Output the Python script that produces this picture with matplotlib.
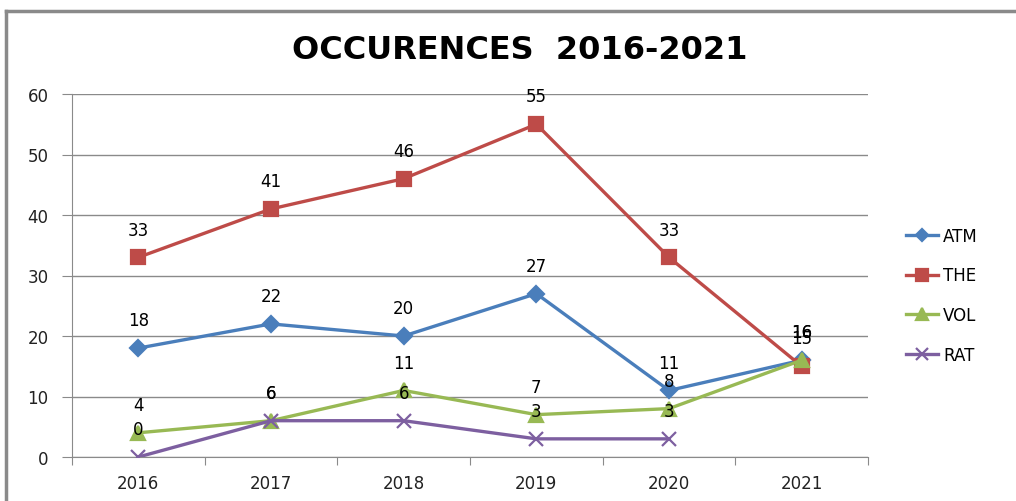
#!/usr/bin/env python3

import numpy as np
import matplotlib
matplotlib.use("Agg")
import matplotlib.pyplot as plt
from matplotlib.lines import Line2D

years = ["2016", "2017", "2018", "2019", "2020", "2021"]
atm = [18, 22, 20, 27, 11, 16]
the = [33, 41, 46, 55, 33, 15]
vol = [4, 6, 11, 7, 8, 16]
rat = [0, 6, 6, 3, 3, np.nan]

series = [
    ("ATM", atm, "#4A7EBB", "D", 8),
    ("THE", the, "#BE4B48", "s", 10),
    ("VOL", vol, "#98B954", "^", 10),
    ("RAT", rat, "#7D5FA0", "x", 10),
]

fig = plt.figure(figsize=(10.16, 5.02), dpi=100)
ax = fig.add_axes([72 / 1016, 1 - 458 / 502, (868 - 72) / 1016, (458 - 95) / 502])

x = np.arange(len(years))
for name, vals, col, mk, ms in series:
    ax.plot(x, vals, color=col, lw=2.4, marker=mk, ms=ms, mew=1.6,
            mec=col, mfc=col, label=name, zorder=3)
    for xi, v in zip(x, vals):
        if np.isnan(v):
            continue
        # labels sit above each point, like the original (they overlap where values match)
        ax.annotate(str(int(v)), (xi, v), xytext=(0, 20), textcoords="offset points",
                    ha="center", va="center", fontsize=12, color="black", zorder=4)

ax.set_xlim(-0.5, 5.5)
ax.set_ylim(0, 60)
ax.set_yticks(range(0, 61, 10))
ax.yaxis.grid(True, color="#8a8a8a", lw=1)
ax.set_axisbelow(True)

ax.set_xticks(np.arange(-0.5, 5.6, 1))
ax.set_xticklabels([])
ax.set_xticks(x, minor=True)
ax.set_xticklabels(years, minor=True)
ax.tick_params(axis="x", which="major", direction="out", length=6, color="#8a8a8a")
ax.tick_params(axis="x", which="minor", length=0, pad=12, labelsize=12, labelcolor="#222222")
ax.tick_params(axis="y", direction="out", length=7, color="#8a8a8a", pad=10,
               labelsize=12, labelcolor="#222222")

for s in ["top", "right"]:
    ax.spines[s].set_visible(False)
for s in ["left", "bottom"]:
    ax.spines[s].set_color("#8a8a8a")

fig.text(0.512, 0.90, "OCCURENCES  2016-2021", ha="center", va="center",
         fontsize=23, fontweight="bold", family="DejaVu Sans")

fig.legend(loc="center left", bbox_to_anchor=(0.884, 0.41), frameon=False,
           fontsize=12, labelspacing=1.3, handlelength=1.9, handletextpad=0.3,
           borderpad=0, markerscale=0.8)

# outer chart frame (left and top edges)
fig.add_artist(Line2D([6 / 1016, 6 / 1016], [0, 1 - 12 / 502], color="#8a8a8a", lw=2.5,
                      transform=fig.transFigure))
fig.add_artist(Line2D([6 / 1016, 1], [1 - 12 / 502, 1 - 12 / 502], color="#8a8a8a", lw=2.5,
                      transform=fig.transFigure))

plt.savefig("out.png", dpi=100)
